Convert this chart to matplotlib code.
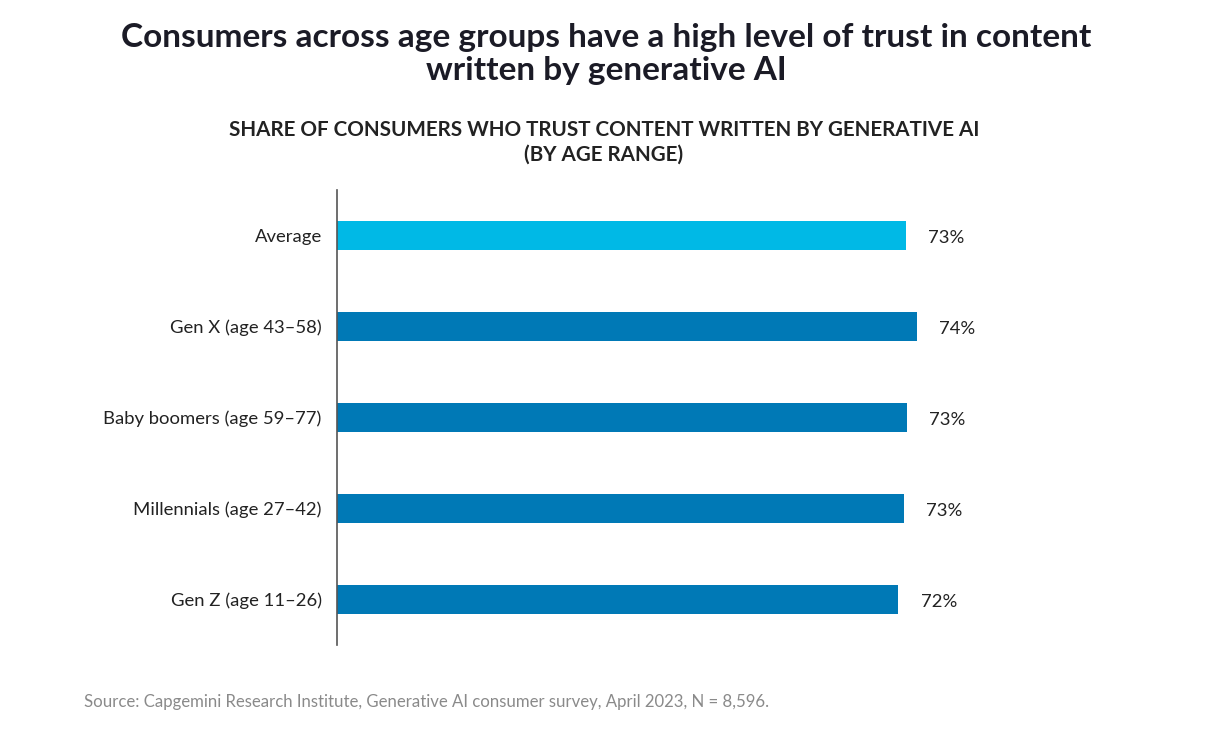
import matplotlib

matplotlib.use("Agg")
import matplotlib.pyplot as plt

plt.rcParams["font.family"] = ["Lato", "DejaVu Sans"]

categories = [
    "Average",
    "Gen X (age 43\u201358)",
    "Baby boomers (age 59\u201377)",
    "Millennials (age 27\u201342)",
    "Gen Z (age 11\u201326)",
]
values = [72.6, 74.0, 72.7, 72.3, 71.6]
labels = ["73%", "74%", "73%", "73%", "72%"]
colors = ["#00B9E6", "#0079B6", "#0079B6", "#0079B6", "#0079B6"]

title = "Consumers across age groups have a high level of trust in content\nwritten by generative AI"
subtitle = "SHARE OF CONSUMERS WHO TRUST CONTENT WRITTEN BY GENERATIVE AI\n(BY AGE RANGE)"
source = "Source: Capgemini Research Institute, Generative AI consumer survey, April 2023, N = 8,596."

W, H = 1217, 747
fig = plt.figure(figsize=(W / 100, H / 100), dpi=100)
# axes box in pixels: left 337, top 190, width 784, height 455
ax = fig.add_axes([337 / W, 1 - 645 / H, 784 / W, 455 / H])

ypos = list(range(len(categories)))
ax.barh(ypos, values, height=0.31, color=colors)
ax.set_xlim(0, 100)
ax.set_ylim(len(categories) - 0.5, -0.5)

for y, v, lab in zip(ypos, values, labels):
    ax.annotate(lab, (v, y), xytext=(16, -1.5), textcoords="offset points",
                ha="left", va="center", fontsize=13.3, color="#222222")

ax.set_yticks(ypos, categories, fontsize=13.3, color="#222222")
ax.tick_params(axis="y", length=0, pad=11)
ax.set_xticks([])
for side in ("top", "right", "bottom"):
    ax.spines[side].set_visible(False)
ax.spines["left"].set_color("#555555")
ax.spines["left"].set_linewidth(1.2)

fig.text(606 / W, 1 - 54 / H, title, ha="center", va="center", fontsize=24,
         fontweight="bold", color="#1b1b26", linespacing=1.17)
fig.text(604 / W, 1 - 142 / H, subtitle, ha="center", va="center", fontsize=14.9,
         fontweight="bold", color="#222222", linespacing=1.3)
fig.text(84 / W, 1 - 702 / H, source, ha="left", va="center", fontsize=12.1,
         color="#8a8a8a")

fig.savefig("out.png", dpi=100, facecolor="white")
